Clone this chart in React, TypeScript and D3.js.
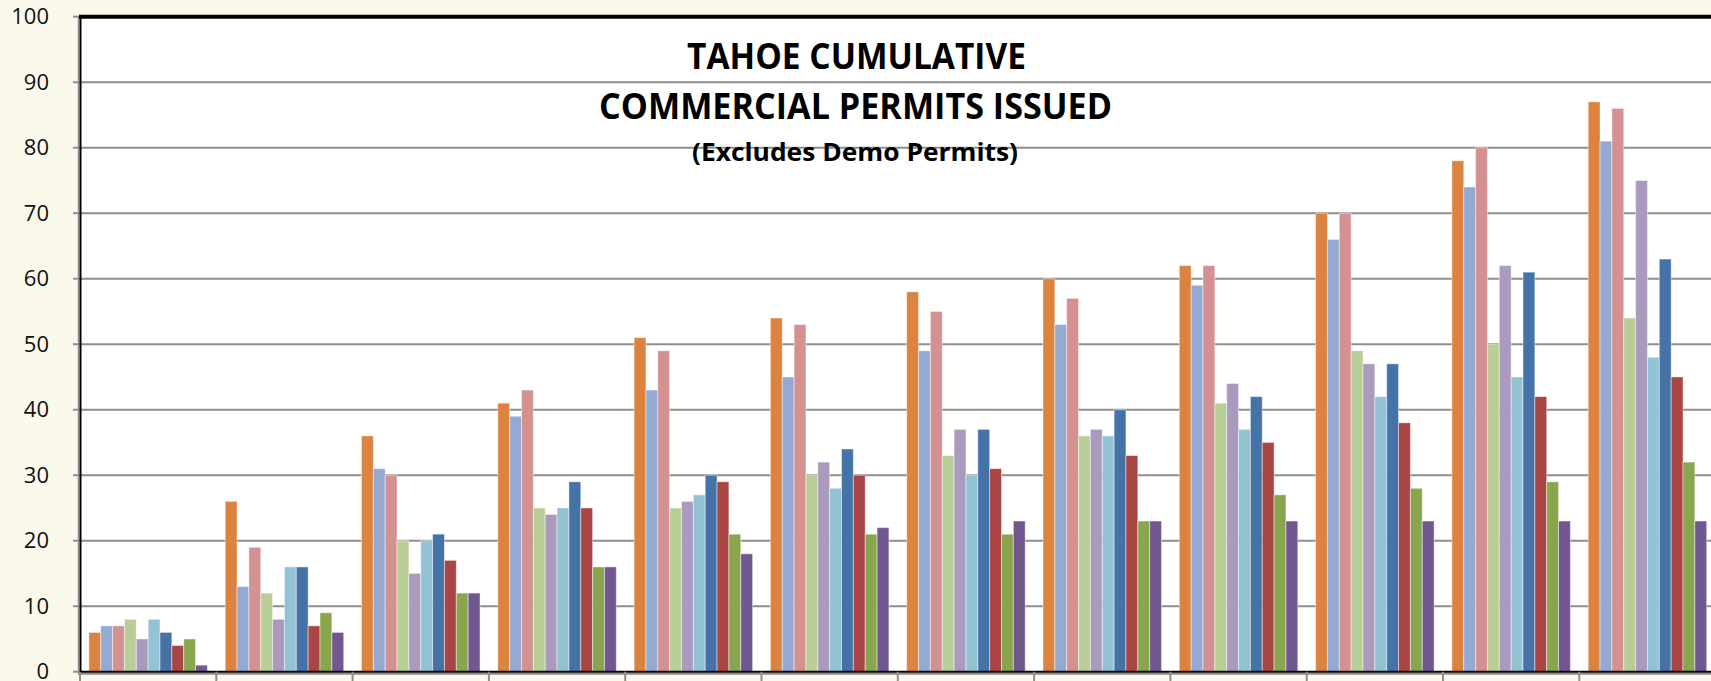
import React from "react";
import * as d3 from "d3";

const categories = ["Jan", "Feb", "Mar", "Apr", "May", "Jun", "Jul", "Aug", "Sep", "Oct", "Nov", "Dec"];
const seriesNames = ["S1", "S2", "S3", "S4", "S5", "S6", "S7", "S8", "S9", "S10"];
const seriesColors = ["#DB833F", "#95AAD2", "#D39191", "#B9CE97", "#A99ABE", "#92C2D4", "#4573A8", "#A94545", "#89A54E", "#725890"];
// values[group][series]
const values: number[][] = [
  [6, 7, 7, 8, 5, 8, 6, 4, 5, 1],
  [26, 13, 19, 12, 8, 16, 16, 7, 9, 6],
  [36, 31, 30, 20, 15, 20, 21, 17, 12, 12],
  [41, 39, 43, 25, 24, 25, 29, 25, 16, 16],
  [51, 43, 49, 25, 26, 27, 30, 29, 21, 18],
  [54, 45, 53, 30, 32, 28, 34, 30, 21, 22],
  [58, 49, 55, 33, 37, 30, 37, 31, 21, 23],
  [60, 53, 57, 36, 37, 36, 40, 33, 23, 23],
  [62, 59, 62, 41, 44, 37, 42, 35, 27, 23],
  [70, 66, 70, 49, 47, 42, 47, 38, 28, 23],
  [78, 74, 80, 50, 62, 45, 61, 42, 29, 23],
  [87, 81, 86, 54, 75, 48, 63, 45, 32, 23],
];
const yTicks = [0, 10, 20, 30, 40, 50, 60, 70, 80, 90, 100];
const titleLines = ["TAHOE CUMULATIVE", "COMMERCIAL PERMITS ISSUED", "(Excludes Demo Permits)"];

const W = 1711;
const H = 681;
const plotLeft = 80;
const groupW = 136.3;
const plotRight = plotLeft + groupW * categories.length;
const yZero = 671.7;
const yTop = 16.7;

export default function App() {
  const x = d3.scaleBand<string>().domain(categories).range([plotLeft, plotRight]).paddingInner(0).paddingOuter(0);
  const bw = x.bandwidth();
  const barW = bw / 11.5;
  const xs = d3.scaleBand<string>().domain(seriesNames).range([0.75 * barW, bw - 0.75 * barW]).padding(0);
  const y = d3.scaleLinear().domain([0, 100]).range([yZero, yTop]);
  const font = "'Open Sans', 'DejaVu Sans', sans-serif";

  return (
    <svg width={W} height={H} style={{ position: "absolute", left: 0, top: 0, display: "block" }}>
      <rect x={0} y={0} width={W} height={H} fill="#FBF8EC" />
      <rect x={plotLeft} y={yTop} width={plotRight - plotLeft} height={yZero - yTop} fill="#FFFFFF" />
      {/* gridlines */}
      {yTicks.filter((t) => t > 0 && t < 100).map((t) => (
        <line key={"g" + t} x1={plotLeft} x2={plotRight} y1={y(t)} y2={y(t)} stroke="#8E8E8E" strokeWidth={2} />
      ))}
      {/* y tick marks */}
      {yTicks.map((t) => (
        <line key={"yt" + t} x1={73} x2={plotLeft} y1={y(t)} y2={y(t)} stroke="#8E8E8E" strokeWidth={2} />
      ))}
      {/* bars */}
      {categories.map((c, gi) => (
        <g key={c} transform={`translate(${x(c)},0)`}>
          {seriesNames.map((s, si) => {
            const v = values[gi][si];
            return (
              <rect
                key={s}
                x={xs(s)}
                y={y(v)}
                width={xs.bandwidth()}
                height={yZero - y(v)}
                fill={seriesColors[si]}
                stroke="rgba(255,255,255,0.45)"
                strokeWidth={1}
              />
            );
          })}
        </g>
      ))}
      {/* x axis */}
      <line x1={plotLeft} x2={plotRight} y1={yZero + 2} y2={yZero + 2} stroke="#8E8E8E" strokeWidth={2} />
      <line x1={plotLeft} x2={plotRight} y1={yZero} y2={yZero} stroke="#000" strokeWidth={2} />
      {categories.map((c) => (
        <line key={"xt" + c} x1={x(c)} x2={x(c)} y1={yZero} y2={H} stroke="#8E8E8E" strokeWidth={2} />
      ))}
      {/* left axis */}
      <line x1={plotLeft - 1.5} x2={plotLeft - 1.5} y1={yTop} y2={yZero + 3} stroke="#8E8E8E" strokeWidth={1.5} />
      <line x1={plotLeft + 0.5} x2={plotLeft + 0.5} y1={yTop} y2={yZero} stroke="#000" strokeWidth={2} />
      {/* top border */}
      <line x1={plotLeft - 1} x2={plotRight} y1={yTop} y2={yTop} stroke="#000" strokeWidth={4} />
      {/* y labels */}
      {yTicks.map((t) => (
        <text key={"yl" + t} x={49} y={y(t)} dy="0.35em" textAnchor="end" fontFamily={font} fontSize={22} fill="#111">
          {t}
        </text>
      ))}
      {/* title */}
      <text x={856.5} y={69} textAnchor="middle" fontFamily={font} fontWeight="bold" fontSize={35} textLength={339} lengthAdjust="spacingAndGlyphs" fill="#000">
        {titleLines[0]}
      </text>
      <text x={855.5} y={118.5} textAnchor="middle" fontFamily={font} fontWeight="bold" fontSize={35} textLength={513} lengthAdjust="spacingAndGlyphs" fill="#000">
        {titleLines[1]}
      </text>
      <text x={855} y={160.5} textAnchor="middle" fontFamily={font} fontWeight="bold" fontSize={25} textLength={326} lengthAdjust="spacingAndGlyphs" fill="#000">
        {titleLines[2]}
      </text>
    </svg>
  );
}
